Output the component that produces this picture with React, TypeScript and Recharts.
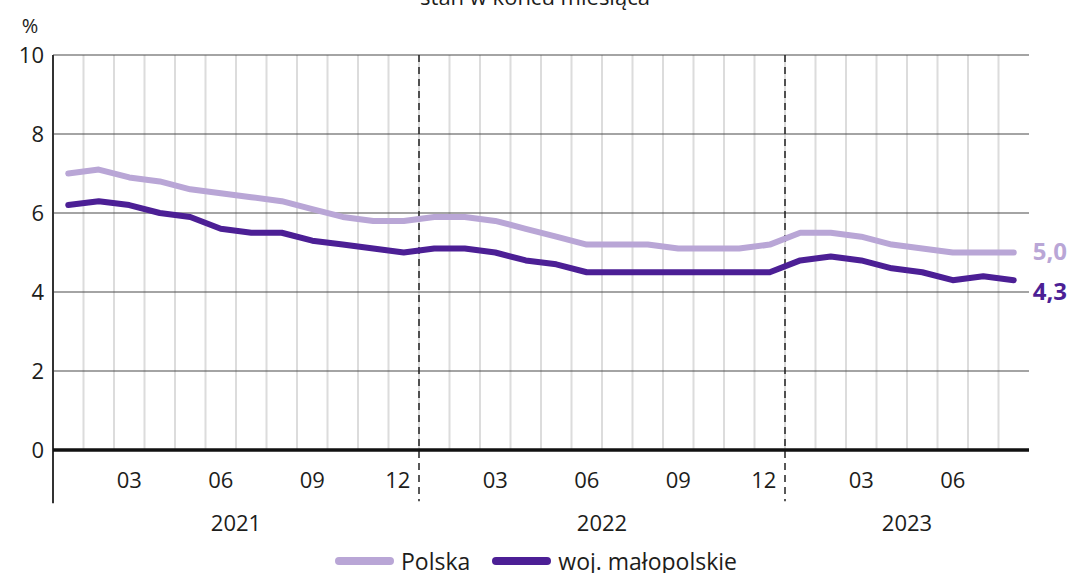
import React from 'react';
import {
  LineChart, Line, XAxis, YAxis, CartesianGrid, ReferenceLine, Legend
} from 'recharts';

// months, Jan 2021 - Aug 2023
const periods = [
  '2021-01', '2021-02', '2021-03', '2021-04', '2021-05', '2021-06',
  '2021-07', '2021-08', '2021-09', '2021-10', '2021-11', '2021-12',
  '2022-01', '2022-02', '2022-03', '2022-04', '2022-05', '2022-06',
  '2022-07', '2022-08', '2022-09', '2022-10', '2022-11', '2022-12',
  '2023-01', '2023-02', '2023-03', '2023-04', '2023-05', '2023-06',
  '2023-07', '2023-08',
];
const polska = [
  7.0, 7.1, 6.9, 6.8, 6.6, 6.5, 6.4, 6.3, 6.1, 5.9, 5.8, 5.8,
  5.9, 5.9, 5.8, 5.6, 5.4, 5.2, 5.2, 5.2, 5.1, 5.1, 5.1, 5.2,
  5.5, 5.5, 5.4, 5.2, 5.1, 5.0, 5.0, 5.0,
];
const malopolskie = [
  6.2, 6.3, 6.2, 6.0, 5.9, 5.6, 5.5, 5.5, 5.3, 5.2, 5.1, 5.0,
  5.1, 5.1, 5.0, 4.8, 4.7, 4.5, 4.5, 4.5, 4.5, 4.5, 4.5, 4.5,
  4.8, 4.9, 4.8, 4.6, 4.5, 4.3, 4.4, 4.3,
];
const monthTicks = ['03', '06', '09', '12'];
const yearLabels = ['2021', '2022', '2023'];
const yearCentreAfter = ['2021-06', '2022-06', '2023-04'];
const yearBreaks = ['2021-12', '2022-12'];
const yTicks = [0, 2, 4, 6, 8, 10];

const data = periods.map((p, i) => ({ p, polska: polska[i], malopolskie: malopolskie[i] }));

const FONT = '"Open Sans", "Noto Sans", sans-serif';
const TEXT = '#1d1d1b';
const LIGHT = '#b9a6d6';
const DARK = '#4c1f95';
const BAND = 30.5; // one month on the x axis

const MonthTick = (props: any) => {
  const { x, y, payload } = props;
  const mm = String(payload.value).slice(5);
  const yi = yearCentreAfter.indexOf(payload.value);
  return (
    <g fontFamily={FONT} fontSize={22} fill={TEXT}>
      {monthTicks.includes(mm) && (
        <text x={x + (mm === '12' ? -6 : 0)} y={y + 38} textAnchor="middle" fill={TEXT}>{mm}</text>
      )}
      {yi >= 0 && (
        <text x={x + BAND / 2} y={y + 81} textAnchor="middle" fill={TEXT}>{yearLabels[yi]}</text>
      )}
    </g>
  );
};

const endLabel = (color: string, dy: number) => (props: any) => {
  const { x, y, index, value } = props;
  if (index !== periods.length - 1) return null;
  return (
    <text x={x + 19} y={y + dy} dy="0.36em" fill={color} fontFamily={FONT} fontSize={24} fontWeight={700}>
      {Number(value).toFixed(1).replace('.', ',')}
    </text>
  );
};

const LegendContent = (props: any) => (
  <div style={{ display: 'flex', alignItems: 'center', paddingLeft: 335, fontFamily: FONT, fontSize: 23, color: TEXT, lineHeight: '30px' }}>
    {(props.payload || []).map((e: any) => (
      <div key={e.value} style={{ display: 'flex', alignItems: 'center', marginRight: 22 }}>
        <span style={{ display: 'inline-block', width: 59, height: 8, borderRadius: 4, background: e.color, marginRight: 7 }} />
        <span>{e.value}</span>
      </div>
    ))}
  </div>
);

export default function App() {
  return (
    <div style={{ position: 'absolute', left: 0, top: 0, width: 1071, height: 573, overflow: 'hidden', background: '#fff' }}>
      <LineChart width={1071} height={573} data={data} margin={{ top: 55, right: 42, left: 1, bottom: 63 }}>
        <text x={535} y={5} textAnchor="middle" fontFamily={FONT} fontSize={22} fill={TEXT}>stan w końcu miesiąca</text>
        <CartesianGrid
          horizontal={false}
          stroke="#dcdcdc"
          strokeWidth={2}
          verticalCoordinatesGenerator={({ offset }: any) =>
            periods.slice(1).map((_, i) => offset.left + ((i + 1) * offset.width) / periods.length)}
        />
        <CartesianGrid vertical={false} stroke="#4a4a4a" strokeWidth={1.2} />
        <XAxis
          dataKey="p"
          scale="band"
          interval={0}
          tickLine={false}
          axisLine={false}
          tickSize={0}
          tickMargin={0}
          height={60}
          tick={<MonthTick />}
        />
        <YAxis
          domain={[0, 10]}
          ticks={yTicks}
          width={52}
          axisLine={false}
          tickLine={false}
          tickSize={0}
          tickMargin={9}
          tick={{ fontSize: 22, fill: TEXT, fontFamily: FONT }}
          label={{ value: '%', position: 'top', offset: 22, dx: 3, fontSize: 20, fill: TEXT, fontFamily: FONT }}
        />
        {yearBreaks.map((b) => (
          <ReferenceLine
            key={b}
            segment={[{ x: b, y: 10 }, { x: b, y: -1.3 }]}
            position="end"
            ifOverflow="visible"
            stroke="#222"
            strokeWidth={1.5}
            strokeDasharray="7 5"
          />
        ))}
        <ReferenceLine
          segment={[{ x: periods[0], y: 10 }, { x: periods[0], y: -1.35 }]}
          position="start"
          ifOverflow="visible"
          stroke="#333"
          strokeWidth={2}
        />
        <ReferenceLine y={0} stroke="#111" strokeWidth={3.5} />
        <Legend
          verticalAlign="bottom"
          content={<LegendContent />}
          wrapperStyle={{ left: 0, top: 546, bottom: 'auto', width: 1071, height: 0 }}
        />
        <Line
          type="linear"
          dataKey="polska"
          name="Polska"
          stroke={LIGHT}
          strokeWidth={6}
          strokeLinecap="round"
          strokeLinejoin="round"
          dot={false}
          label={endLabel(LIGHT, -1)}
          isAnimationActive={false}
        />
        <Line
          type="linear"
          dataKey="malopolskie"
          name="woj. małopolskie"
          stroke={DARK}
          strokeWidth={6}
          strokeLinecap="round"
          strokeLinejoin="round"
          dot={false}
          label={endLabel(DARK, 11)}
          isAnimationActive={false}
        />
      </LineChart>
    </div>
  );
}
